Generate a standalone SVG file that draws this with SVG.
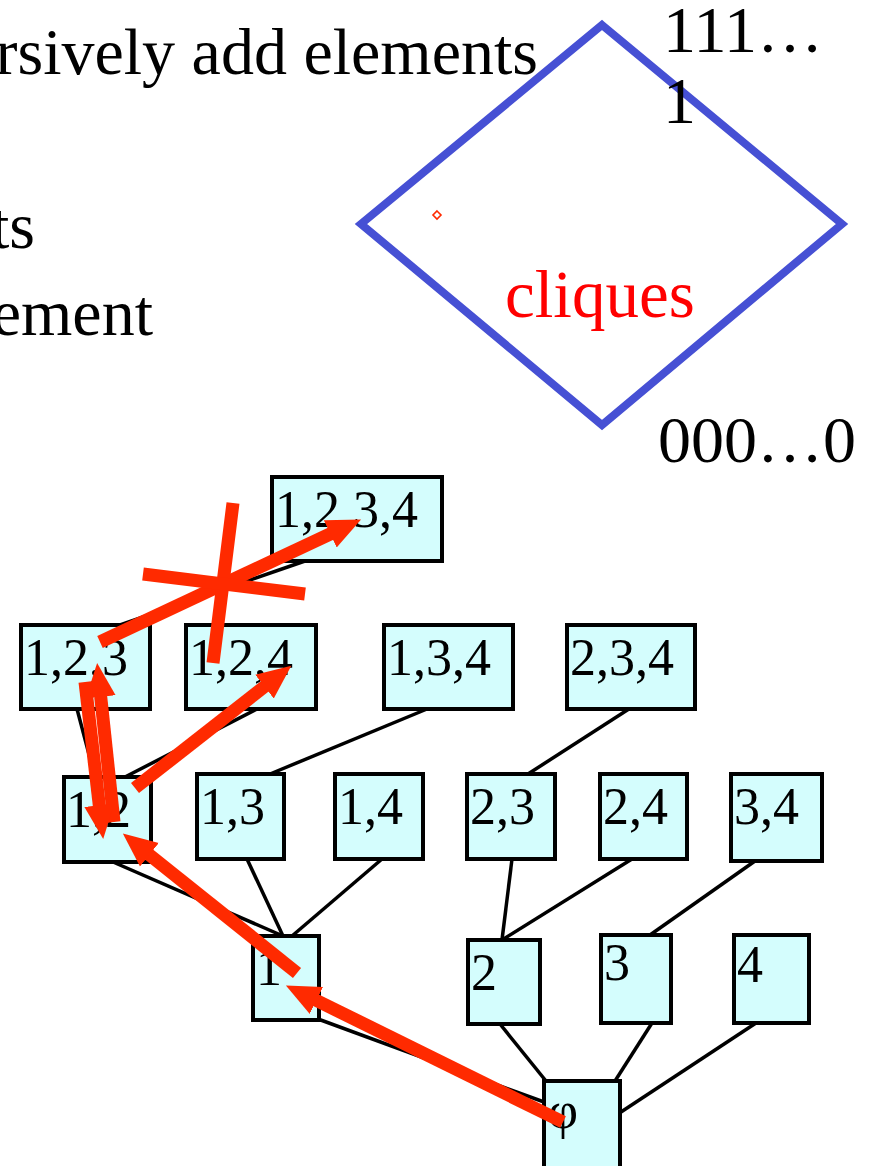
<svg xmlns="http://www.w3.org/2000/svg" width="871" height="1166" viewBox="0 0 871 1166">
  <style>
    .big { font-family: "Liberation Serif", "Times New Roman", serif; font-size: 66px; fill: #000; }
    .lbl { font-family: "Liberation Serif", "Times New Roman", serif; font-size: 52px; fill: #000; }
    .box { fill: #d4fdfd; stroke: #000; stroke-width: 4; }
    .edge { stroke: #000; stroke-width: 3.5; fill: none; }
    .path { stroke: #ff2a00; stroke-width: 13; fill: none; stroke-linecap: butt; }
    .arrow { marker-end: url(#head); }
  </style>
  <defs>
    <marker id="head" markerUnits="userSpaceOnUse" markerWidth="36" markerHeight="32" viewBox="0 0 36 32" refX="1" refY="16" orient="auto">
      <path d="M0,1 L34,16 L0,31 z" fill="#ff2a00"/>
    </marker>
  </defs>
  <rect width="871" height="1166" fill="#fff"/>

  <!-- heading text, running off the left edge -->
  <g id="heading">
    <text class="big" x="538" y="74" text-anchor="end">rsively add elements</text>
    <text class="big" x="35" y="248" text-anchor="end">ts</text>
    <text class="big" x="153" y="335" text-anchor="end">ement</text>
  </g>

  <!-- lattice sketch -->
  <g id="lattice">
    <polygon points="602,25 842,224 602,425 361,224" fill="none" stroke="#4650d4" stroke-width="8"/>
    <polygon points="437,211 441,215 437,219 433,215" fill="#fff" stroke="#ff2a00" stroke-width="1.6"/>
    <text class="big" x="663" y="52">111…</text>
    <text class="big" x="663" y="123">1</text>
    <text class="big" x="505" y="317" style="fill:#ff0000;font-size:67px">cliques</text>
    <text class="big" x="658" y="462">000…0</text>
  </g>

  <!-- tree edges -->
  <g id="edges">
    <line class="edge" x1="305" y1="561" x2="120" y2="625"/>
    <line class="edge" x1="77" y1="709" x2="95" y2="777"/>
    <line class="edge" x1="257" y1="709" x2="125" y2="777"/>
    <line class="edge" x1="427" y1="709" x2="270" y2="774"/>
    <line class="edge" x1="632" y1="707" x2="528" y2="774"/>
    <line class="edge" x1="113" y1="862" x2="283" y2="936"/>
    <line class="edge" x1="247" y1="859" x2="283" y2="936"/>
    <line class="edge" x1="382" y1="859" x2="292" y2="936"/>
    <line class="edge" x1="512" y1="859" x2="502" y2="940"/>
    <line class="edge" x1="632" y1="859" x2="502" y2="940"/>
    <line class="edge" x1="755" y1="861" x2="650" y2="935"/>
    <line class="edge" x1="318" y1="1019" x2="544" y2="1102"/>
    <line class="edge" x1="500" y1="1024" x2="546" y2="1081"/>
    <line class="edge" x1="652" y1="1023" x2="615" y2="1081"/>
    <line class="edge" x1="756" y1="1023" x2="621" y2="1112"/>
  </g>

  <g id="n1234"><rect class="box" x="272" y="477" width="170" height="84"/><text class="lbl" x="275" y="527">1,2,3,4</text></g>
  <g id="n123"><rect class="box" x="21" y="625" width="129" height="84"/><text class="lbl" x="24" y="675">1,2,3</text></g>
  <g id="n124"><rect class="box" x="186" y="625" width="130" height="84"/><text class="lbl" x="189" y="675">1,2,4</text></g>
  <g id="n134"><rect class="box" x="384" y="625" width="129" height="84"/><text class="lbl" x="387" y="675">1,3,4</text></g>
  <g id="n234"><rect class="box" x="567" y="625" width="128" height="84"/><text class="lbl" x="570" y="675">2,3,4</text></g>
  <g id="n12"><rect class="box" x="64" y="777" width="87" height="85"/><text class="lbl" x="66" y="827">1,2</text></g>
  <g id="n13"><rect class="box" x="197" y="774" width="87" height="85"/><text class="lbl" x="200" y="824">1,3</text></g>
  <g id="n14"><rect class="box" x="335" y="774" width="88" height="85"/><text class="lbl" x="338" y="824">1,4</text></g>
  <g id="n23"><rect class="box" x="467" y="774" width="88" height="85"/><text class="lbl" x="470" y="824">2,3</text></g>
  <g id="n24"><rect class="box" x="600" y="774" width="87" height="85"/><text class="lbl" x="603" y="824">2,4</text></g>
  <g id="n34"><rect class="box" x="731" y="774" width="91" height="87"/><text class="lbl" x="734" y="824">3,4</text></g>
  <g id="n1"><rect class="box" x="253" y="936" width="66" height="84"/><text class="lbl" x="256" y="985">1</text></g>
  <g id="n2"><rect class="box" x="468" y="940" width="72" height="84"/><text class="lbl" x="471" y="990">2</text></g>
  <g id="n3"><rect class="box" x="601" y="935" width="70" height="88"/><text class="lbl" x="604" y="980">3</text></g>
  <g id="n4"><rect class="box" x="734" y="935" width="75" height="88"/><text class="lbl" x="737" y="982">4</text></g>
  <g id="nempty"><rect class="box" x="544" y="1081" width="76" height="100"/><text class="lbl" x="548" y="1128">φ</text></g>

  <!-- search path -->
  <g id="search">
    <line class="path arrow" x1="563" y1="1122" x2="315.5" y2="1000"/>
    <line class="path arrow" x1="297" y1="973" x2="148.6" y2="854.2"/>
    <line class="path arrow" x1="114" y1="822" x2="100.6" y2="695.8"/>
    <line class="path arrow" x1="85" y1="682" x2="99.4" y2="806.2"/>
    <line class="path arrow" x1="135" y1="788" x2="265.3" y2="686"/>
    <line class="path arrow" x1="100" y1="642" x2="331.2" y2="533.5"/>
    <line class="path" x1="233" y1="503" x2="213" y2="663"/>
    <line class="path" x1="143" y1="574" x2="305" y2="594"/>
  </g>
</svg>
